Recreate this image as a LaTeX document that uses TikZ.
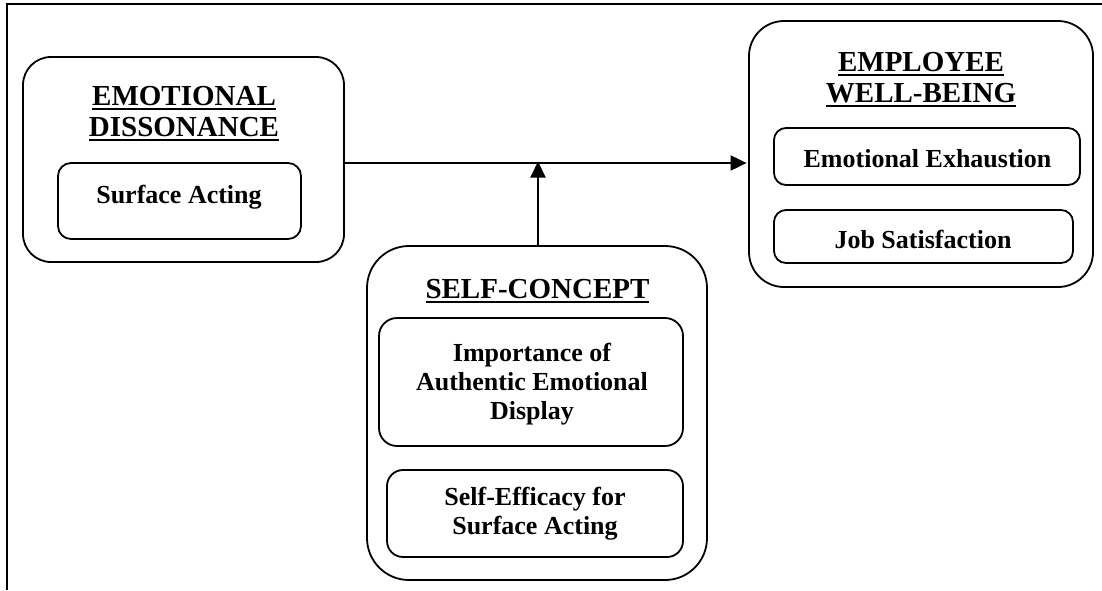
\documentclass[tikz,border=0pt]{standalone}
\usepackage{fontspec}
\setmainfont{Liberation Serif}
\usetikzlibrary{arrows.meta}
\newcommand\myul[1]{\setbox0\hbox{#1}\rlap{\rule[-5pt]{\wd0}{2pt}}\box0}
\begin{document}
\begin{tikzpicture}[x=1pt,y=-1pt,
  box/.style={draw, line width=1.8pt, inner sep=0pt},
  ttl/.style={font=\fontsize{29}{31}\selectfont\bfseries, align=center, anchor=base, inner sep=0pt},
  lbl/.style={font=\fontsize{26}{29}\selectfont\bfseries, align=center, anchor=base, inner sep=0pt},
  conn/.style={line width=2pt, -{Triangle[length=16pt,width=15pt]}}]
\useasboundingbox (0,0) rectangle (1102,590);
% frame
\coordinate (fbl) at (7,590);
\coordinate (ftl) at (7,4);
\coordinate (ftr) at (1102,4);
\draw[line width=2pt] (fbl) -- (ftl) -- (ftr);
% Emotional dissonance
\node[box, minimum width=321pt, minimum height=205pt, rounded corners=28pt] (ED) at (183.5,159.5) {};
\node[ttl] (EDt) at (184,136) {\myul{EMOTIONAL}\\\myul{DISSONANCE}};
\node[box, minimum width=243pt, minimum height=76pt, rounded corners=13pt] (SA) at (179.5,201) {};
\node[lbl] (SAt) at (179,203) {Surface Acting};
% Employee well-being
\node[box, minimum width=344pt, minimum height=266pt, rounded corners=35pt] (EWB) at (921,154) {};
\node[ttl] (EWBt) at (921,102) {\myul{EMPLOYEE}\\\myul{WELL-BEING}};
\node[box, minimum width=306pt, minimum height=57pt, rounded corners=12pt] (EE) at (927,156.5) {};
\node[lbl] (EEt) at (927.5,167) {Emotional Exhaustion};
\node[box, minimum width=299pt, minimum height=53pt, rounded corners=12pt] (JS) at (923.5,236.5) {};
\node[lbl] (JSt) at (923,248) {Job Satisfaction};
% Self-concept
\node[box, minimum width=340pt, minimum height=334pt, rounded corners=42pt] (SC) at (537,413) {};
\node[ttl] (SCt) at (537.5,298) {\myul{SELF-CONCEPT}};
\node[box, minimum width=304pt, minimum height=128pt, rounded corners=18pt] (IA) at (531,382) {};
\node[lbl] (IAt) at (532,419) {Importance of\\Authentic Emotional\\Display};
\node[box, minimum width=296pt, minimum height=87pt, rounded corners=16pt] (SE) at (535,513.5) {};
\node[lbl] (SEt) at (535,534) {Self-Efficacy for\\Surface Acting};
% connectors
\coordinate (J) at (538,163);
\draw[conn, shorten >=1.5pt] (ED.east |- J) -- (EWB.west |- J);
\draw[conn] (SC.north -| J) -- ([yshift=1.5pt]J);
\end{tikzpicture}
\end{document}
